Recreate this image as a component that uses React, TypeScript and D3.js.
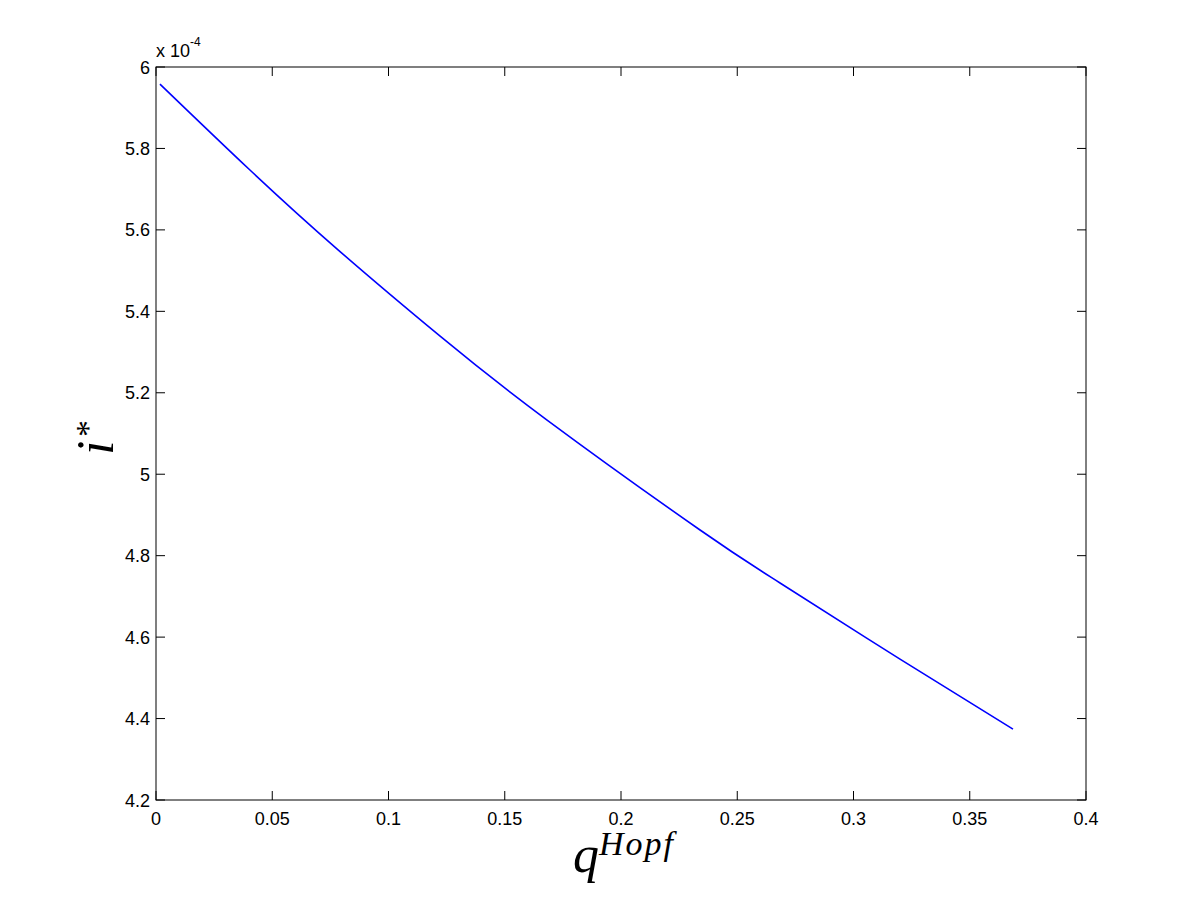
import React from "react";
import * as d3 from "d3";

const qHopf = [0.0017, 0.0404, 0.0783, 0.1222, 0.1682, 0.234, 0.2684, 0.32, 0.3686];
const iStar = [5.958, 5.747, 5.551, 5.339, 5.133, 4.863, 4.733, 4.546, 4.374]; // ×10^-4
const xTicks = [0, 0.05, 0.1, 0.15, 0.2, 0.25, 0.3, 0.35, 0.4];
const yTicks = [4.2, 4.4, 4.6, 4.8, 5, 5.2, 5.4, 5.6, 5.8, 6];
const xTickLabels = ["0", "0.05", "0.1", "0.15", "0.2", "0.25", "0.3", "0.35", "0.4"];
const yTickLabels = ["4.2", "4.4", "4.6", "4.8", "5", "5.2", "5.4", "5.6", "5.8", "6"];

const W = 1200, H = 900;
const left = 156, right = 1086, top = 67, bottom = 800;
const tickLen = 9;
const font = "'Liberation Sans', Arial, sans-serif";
const serif = "'Liberation Serif', 'Times New Roman', serif";

export default function App() {
  const x = d3.scaleLinear().domain([0, 0.4]).range([left, right]);
  const y = d3.scaleLinear().domain([4.2, 6]).range([bottom, top]);
  const pts = qHopf.map((q, i) => [q, iStar[i]] as [number, number]);
  const line = d3.line<[number, number]>().x(d => x(d[0])).y(d => y(d[1])).curve(d3.curveNatural);

  return (
    <svg width={W} height={H} style={{ position: "absolute", left: 0, top: 0, background: "#fff" }}>
      <rect x={0} y={0} width={W} height={H} fill="#fff" />
      {xTicks.map((t, i) => (
        <g key={"x" + i}>
          <line x1={x(t)} x2={x(t)} y1={bottom} y2={bottom - tickLen} stroke="#000" />
          <line x1={x(t)} x2={x(t)} y1={top} y2={top + tickLen} stroke="#000" />
          <text x={x(t)} y={825} textAnchor="middle" fontFamily={font} fontSize={18}>{xTickLabels[i]}</text>
        </g>
      ))}
      {yTicks.map((t, i) => (
        <g key={"y" + i}>
          <line x1={left} x2={left + tickLen} y1={y(t)} y2={y(t)} stroke="#000" />
          <line x1={right} x2={right - tickLen} y1={y(t)} y2={y(t)} stroke="#000" />
          <text x={150} y={y(t) + 6.5} textAnchor="end" fontFamily={font} fontSize={18}>{yTickLabels[i]}</text>
        </g>
      ))}
      <rect x={left} y={top} width={right - left} height={bottom - top} fill="none" stroke="#000" strokeWidth={1} />
      <path d={line(pts) || ""} fill="none" stroke="#0000ff" strokeWidth={1.6} />
      <text x={156} y={57} fontFamily={font} fontSize={18}>x 10<tspan dy={-11} fontSize={12}>-4</tspan></text>
      <text x={573} y={872} fontFamily={serif} fontStyle="italic" fontSize={52}>q</text>
      <text x={599} y={855} fontFamily={serif} fontStyle="italic" fontSize={34} letterSpacing={2}>Hopf</text>
      <g transform="translate(113,455) rotate(-90)">
        <text x={0} y={0} fontFamily={serif} fontStyle="italic" fontSize={52}>i</text>
        <text x={18} y={-14} fontFamily={serif} fontSize={34}>*</text>
      </g>
    </svg>
  );
}
